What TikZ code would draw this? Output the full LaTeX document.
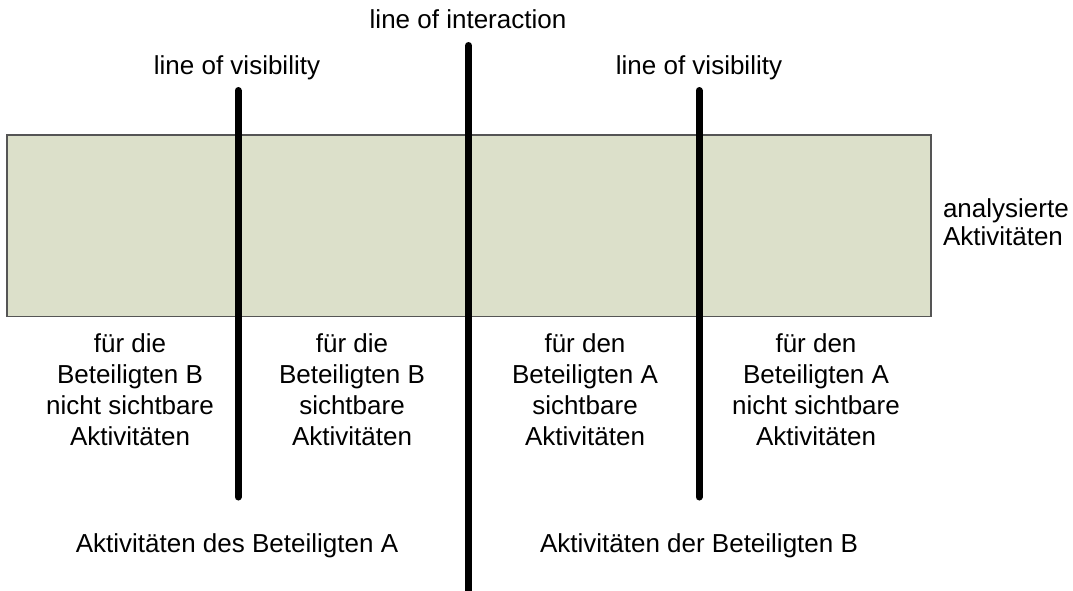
\documentclass[tikz,border=0pt]{standalone}
\usepackage{fontspec}
\setmainfont{Liberation Sans}
\definecolor{boxfill}{RGB}{220,224,202}
\definecolor{boxedge}{RGB}{85,85,85}
\begin{document}
\begin{tikzpicture}[x=1pt,y=-1pt,
  lbl/.style={inner sep=0pt,outer sep=0pt,font=\fontsize{26}{31}\selectfont,anchor=base},
  blk/.style={lbl,align=center},
  divider/.style={line width=7pt,line cap=round,draw=black},
  areabox/.style={draw=boxedge,line width=1.3pt,fill=boxfill}]
\useasboundingbox (0,0) rectangle (1073,590);
% analysed activities area
\draw[areabox] (7,135) rectangle (931,316.5);
% lines
\coordinate (ciTop) at (468.5,45.5);
\coordinate (ciBot) at (468.5,600);
\coordinate (lvTop) at (238,90.5);
\coordinate (lvBot) at (238,497);
\coordinate (rvTop) at (699,90.5);
\coordinate (rvBot) at (699,497);
\begin{scope}
\clip (0,0) rectangle (1073,590);
\draw[divider] (ciTop) -- (ciBot);
\end{scope}
\draw[divider] (lvTop) -- (lvBot);
\draw[divider] (rvTop) -- (rvBot);
% labels (multi-line nodes: base anchor = last line's baseline)
\node[lbl] (interaction) at (468,28) {line of interaction};
\node[lbl] (visL) at (237,74) {line of visibility};
\node[lbl] (visR) at (699,74) {line of visibility};
\node[lbl,align=left,anchor=base west,font=\fontsize{26}{28}\selectfont] (analysed) at (943,245) {analysierte\\Aktivitäten};
\node[blk] (b1) at (130,445) {für die\\Beteiligten B\\nicht sichtbare\\Aktivitäten};
\node[blk] (b2) at (352,445) {für die\\Beteiligten B\\sichtbare\\Aktivitäten};
\node[blk] (b3) at (585,445) {für den\\Beteiligten A\\sichtbare\\Aktivitäten};
\node[blk] (b4) at (816,445) {für den\\Beteiligten A\\nicht sichtbare\\Aktivitäten};
\node[lbl] (actA) at (237,552) {Aktivitäten des Beteiligten A};
\node[lbl] (actB) at (699,552) {Aktivitäten der Beteiligten B};
\end{tikzpicture}
\end{document}
